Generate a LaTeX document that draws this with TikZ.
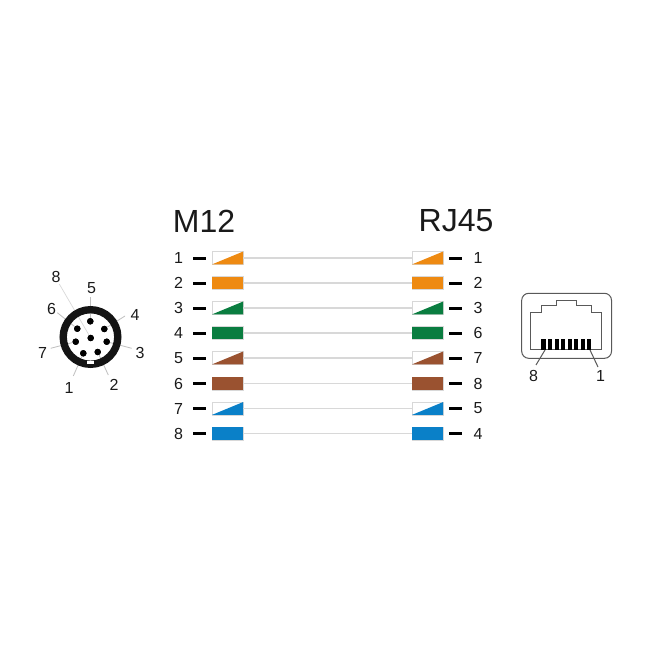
\documentclass[tikz,border=0pt]{standalone}
\usepackage{fontspec}
\setmainfont{Liberation Sans}
\definecolor{corange}{HTML}{EE8A12}
\definecolor{cgreen}{HTML}{0A7D40}
\definecolor{cbrown}{HTML}{9A5230}
\definecolor{cblue}{HTML}{0A80C8}
\definecolor{wire}{HTML}{D8D8D8}
\definecolor{ink}{HTML}{1A1A1A}
\tikzset{
  x=1pt,y=-1pt,
  swatch/.style={draw=wire,line width=0.7pt,fill=white,minimum width=31pt,minimum height=12.8pt,inner sep=0pt,outer sep=0pt},
  wireline/.style={draw=wire,line width=1.3pt},
  tick/.style={draw=black,line width=3pt},
  num/.style={font=\fontsize{16}{16}\selectfont,text=ink,inner sep=0pt},
  title/.style={font=\fontsize{32}{32}\selectfont,text=ink,inner sep=0pt},
  leader/.style={draw=gray!50,line width=0.8pt},
  faint/.style={draw=gray!30,line width=0.7pt},
  pin/.style={circle,fill=black,minimum size=6.4pt,inner sep=0pt},
  jackline/.style={draw=black!65,line width=1pt},
}
\begin{document}
\begin{tikzpicture}
\useasboundingbox (0,0) rectangle (650,650);
\fill[white] (0,0) rectangle (650,650);
\node[title] (tm) at (204,221) {M12};
\node[title] (tr) at (456,221) {RJ45};
% rows: index / y / colour / half / left label / right label
\foreach \i/\y/\c/\h/\l/\r in {
 1/258/corange/1/1/1, 2/283/corange/0/2/2, 3/308/cgreen/1/3/3, 4/333/cgreen/0/4/6,
 5/358/cbrown/1/5/7, 6/383.5/cbrown/0/6/8, 7/408.5/cblue/1/7/5, 8/433.5/cblue/0/8/4}{
  \node[swatch] (L\i) at (227.5,\y) {};
  \node[swatch] (R\i) at (427.5,\y) {};
  \ifnum\h=1
    \fill[\c] (L\i.south west) -- (L\i.north east) -- (L\i.south east) -- cycle;
    \fill[\c] (R\i.south west) -- (R\i.north east) -- (R\i.south east) -- cycle;
  \else
    \fill[\c] (L\i.south west) rectangle (L\i.north east);
    \fill[\c] (R\i.south west) rectangle (R\i.north east);
  \fi
  \draw[wireline] (L\i.east) -- (R\i.west);
  \coordinate (a\i) at (193,\y); \coordinate (b\i) at (206,\y);
  \coordinate (c\i) at (449,\y); \coordinate (d\i) at (462,\y);
  \draw[tick] (a\i) -- (b\i);
  \draw[tick] (c\i) -- (d\i);
  \node[num] (nl\i) at (178.5,\y) {\l};
  \node[num] (nr\i) at (478,\y) {\r};
}
% M12 pins
\foreach \n/\x/\y in {1/83.3/353.3, 2/97.7/352, 3/106.7/341.7, 4/104.3/329, 5/90.3/321.3, 6/77.3/328.7, 7/75.7/341.7, 8/90.7/338}{
  \node[pin] (p\n) at (\x,\y) {};
}
\foreach \n/\lx/\ly/\ex/\ey/\st in {1/69/387.5/73.3/376/leader, 2/114/385/108.3/375/leader, 3/140/352.5/131.7/348.3/leader, 4/135/315/125/316/leader, 5/91.5/288.5/90.3/297/leader, 6/51.5/308.5/57.3/312.7/leader, 7/42.5/352.5/50.7/348.3/leader, 8/56/277/59.3/284/faint}{
  \node[num] (m\n) at (\lx,\ly) {\n};
  \coordinate (e\n) at (\ex,\ey);
  \draw[\st] (p\n) -- (e\n);
}
\coordinate (cc) at (90.5,337);
\draw[line width=7.4pt,black!92] (cc) circle[radius=27.3];
\foreach \n in {1,...,8}{\node[pin] at (p\n) {};}
\fill[white] (87,361.4) rectangle (94,364);
% RJ45
\draw[jackline,rounded corners=7pt] (521.7,293.3) rectangle (611.5,358.3);
\draw[jackline] (530.7,349) -- (530.7,312.3) -- (541.7,312.3) -- (541.7,305) -- (556.7,305) -- (556.7,300) -- (576,300) -- (576,305) -- (591.7,305) -- (591.7,312.3) -- (601.7,312.3) -- (601.7,349) -- cycle;
\foreach \k in {0,...,7}{
  \fill[black] ({543.5+6.55*\k-2.1},338.5) rectangle ({543.5+6.55*\k+2.1},349.5);
}
\coordinate (c8a) at (545,350); \coordinate (c8b) at (536,365);
\coordinate (c1a) at (590,350); \coordinate (c1b) at (598,367);
\draw[jackline] (c8a) -- (c8b);
\draw[jackline] (c1a) -- (c1b);
\node[num] (j8) at (533.5,375.5) {8};
\node[num] (j1) at (600.5,375.5) {1};
\end{tikzpicture}
\end{document}
